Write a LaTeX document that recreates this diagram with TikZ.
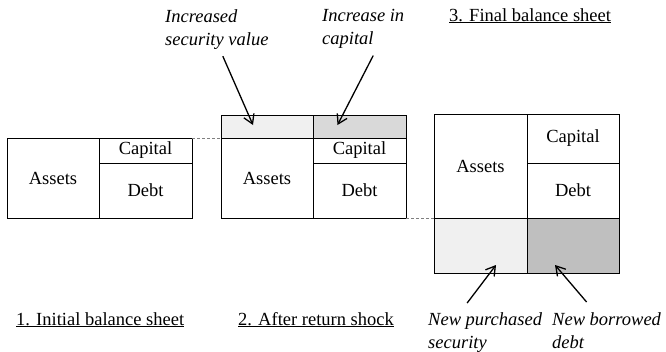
\documentclass[tikz,border=0pt]{standalone}
\usepackage{fontspec}
\setmainfont{Liberation Serif}
\usepackage{tikz}
\usetikzlibrary{arrows.meta}

\definecolor{shadelt}{HTML}{F0F0F0}
\definecolor{shademd}{HTML}{D9D9D9}
\definecolor{shadedk}{HTML}{BFBFBF}

\begin{document}
\begin{tikzpicture}[x=1pt, y=-1pt,
      cell/.style={draw, line width=1pt, anchor=north west, inner sep=0pt, outer sep=0pt, font=\fontsize{18.5}{23}\selectfont},
      sz/.style 2 args={minimum width=#1pt, minimum height=#2pt},
      note/.style={anchor=north west, align=left, inner sep=0pt, font=\fontsize{18.5}{23}\selectfont\itshape},
      title/.style={anchor=base west, inner sep=0pt, font=\fontsize{18.5}{23}\selectfont},
      link/.style={densely dashed, gray, line width=1pt},
      ptr/.style={-{Straight Barb[length=9pt, width=11pt]}, line width=1.3pt},
    ]
    \useasboundingbox (0,0) rectangle (666,351);

    % 1. initial
    \node[cell, sz={92}{80}] (as1) at (7,138) {Assets};
    \node[cell, sz={93}{25}] (cp1) at (99,138) {Capital};
    \node[cell, sz={93}{55}] (db1) at (99,163) {Debt};

    % 2. after shock
    \node[cell, sz={92}{23}, fill=shadelt] (up2) at (221,115) {};
    \node[cell, sz={93}{23}, fill=shademd] (ci2) at (313,115) {};
    \node[cell, sz={92}{80}] (as2) at (221,138) {Assets};
    \node[cell, sz={93}{25}] (cp2) at (313,138) {Capital};
    \node[cell, sz={93}{55}] (db2) at (313,163) {Debt};

    % 3. final
    \node[cell, sz={93}{104}] (as3) at (434,114) {Assets};
    \node[cell, sz={92}{49}] (cp3) at (527,114) {Capital};
    \node[cell, sz={92}{55}] (db3) at (527,163) {Debt};
    \node[cell, sz={93}{55}, fill=shadelt] (ns3) at (434,218) {};
    \node[cell, sz={92}{55}, fill=shadedk] (nd3) at (527,218) {};

    \draw[link] (cp1.north east) -- (up2.south west);
    \draw[link] (db2.south east) -- (ns3.north west);

    \node[note] (incsec) at (165,9) {Increased\\security value};
    \node[note] (inccap) at (322,9) {Increase in\\capital};
    \node[note] (newsec) at (428,312) {New purchased\\security};
    \node[note] (newdbt) at (552,312) {New borrowed\\debt};

    \node[title] (t1) at (16,325) {\underline{1. Initial balance sheet}};
    \node[title] (t2) at (238,325) {\underline{2. After return shock}};
    \node[title] (t3) at (449,21) {\underline{3. Final balance sheet}};

    \draw[ptr] ([xshift=6pt, yshift=-7pt]incsec.south) -- ([xshift=-14pt, yshift=1.5pt]up2.center);
    \draw[ptr] ([xshift=10pt, yshift=-7pt]inccap.south) -- ([xshift=-22pt, yshift=1.5pt]ci2.center);
    \draw[ptr] ([xshift=-18pt, yshift=9pt]newsec.north) -- ([xshift=15.5pt, yshift=-19.5pt]ns3.center);
    \draw[ptr] ([xshift=-20pt, yshift=10pt]newdbt.north) -- ([xshift=-18pt, yshift=-19.5pt]nd3.center);
  \end{tikzpicture}
\end{document}
